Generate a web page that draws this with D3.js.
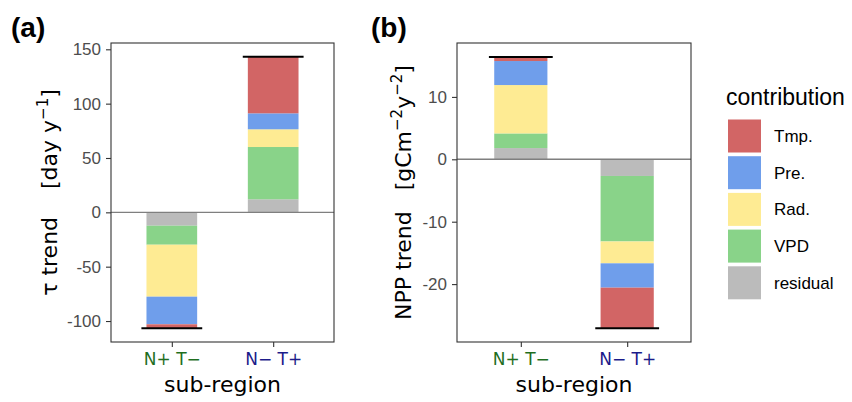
<!DOCTYPE html>
<html>
<head>
<meta charset="utf-8">
<script src="https://cdn.jsdelivr.net/npm/d3@7"></script>
<style>
  body { margin: 0; background: #fff; }
  svg { display: block; }
</style>
</head>
<body>
<svg id="chart" width="852" height="402"></svg>
<script>
// sub-regions and contribution terms (stacked from zero outward)
const regions = ["N+ T\u2212", "N\u2212 T+"];
const regionColors = ["#1f6e1f", "#1c1c8a"];
const keys = ["residual", "VPD", "Rad.", "Pre.", "Tmp."];
const legendKeys = ["Tmp.", "Pre.", "Rad.", "VPD", "residual"];
const fillColors = {"Tmp.": "#d26565", "Pre.": "#6f9eeb", "Rad.": "#feeb93", "VPD": "#89d389", "residual": "#bbbbbb"};

// panel (a): tau trend
const tauResidual = [-12.3, 12.0];
const tauVPD = [-17.5, 48.1];
const tauRad = [-47.8, 16.3];
const tauPre = [-25.4, 14.7];
const tauTmp = [-3.7, 52.1];

// panel (b): NPP trend
const nppResidual = [1.8, -2.67];
const nppVPD = [2.35, -10.5];
const nppRad = [7.75, -3.5];
const nppPre = [3.85, -3.9];
const nppTmp = [0.65, -6.5];

const tauTicks = [-100, -50, 0, 50, 100, 150];
const nppTicks = [-20, -10, 0, 10];

const titleFont = "'DejaVu Sans', 'Open Sans', sans-serif";
const numFont = "'Liberation Sans', Arial, sans-serif";

function rows(res, vpd, rad, pre, tmp) {
  return regions.map((r, i) => ({
    region: r, "residual": res[i], "VPD": vpd[i], "Rad.": rad[i], "Pre.": pre[i], "Tmp.": tmp[i]
  }));
}

const svg = d3.select("#chart");
const stack = d3.stack().keys(keys).offset(d3.stackOffsetDiverging);

function drawPanel(opt) {
  const { data, box, domain, ticks, tag, tagX, titleX, title } = opt;
  const g = svg.append("g");

  const x = d3.scalePoint().domain(regions).range([box.x0, box.x1]).padding(0.6);
  const step = x.step();
  const y = d3.scaleLinear().domain(domain).range([box.y1, box.y0]);

  const series = stack(data);
  g.append("g")
    .selectAll("g")
    .data(series)
    .join("g")
    .attr("fill", (s) => fillColors[s.key])
    .selectAll("rect")
    .data((s) => s)
    .join("rect")
    .attr("x", (d) => x(d.data.region) - step * 0.25)
    .attr("width", step * 0.5)
    .attr("y", (d) => y(Math.max(d[0], d[1])))
    .attr("height", (d) => Math.abs(y(d[0]) - y(d[1])));

  // zero line
  g.append("line")
    .attr("x1", box.x0).attr("x2", box.x1)
    .attr("y1", y(0)).attr("y2", y(0))
    .attr("stroke", "#7f7f7f").attr("stroke-width", 1.4);

  // total bars
  g.append("g")
    .selectAll("line")
    .data(data)
    .join("line")
    .attr("x1", (d) => x(d.region) - step * 0.3)
    .attr("x2", (d) => x(d.region) + step * 0.3)
    .attr("y1", (d) => y(d3.sum(keys, (k) => d[k])))
    .attr("y2", (d) => y(d3.sum(keys, (k) => d[k])))
    .attr("stroke", "#000").attr("stroke-width", 2);

  // panel border
  g.append("rect")
    .attr("x", box.x0).attr("y", box.y0)
    .attr("width", box.x1 - box.x0).attr("height", box.y1 - box.y0)
    .attr("fill", "none").attr("stroke", "#333").attr("stroke-width", 1.1);

  // y axis
  const yAxis = g.append("g")
    .attr("transform", `translate(${box.x0},0)`)
    .call(d3.axisLeft(y).tickValues(ticks).tickSize(5).tickPadding(5));
  yAxis.select(".domain").remove();
  yAxis.selectAll(".tick line").attr("stroke", "#333").attr("stroke-width", 1.1);
  yAxis.selectAll(".tick text")
    .attr("fill", "#4d4d4d")
    .style("font", `17px ${numFont}`)
    .text((d) => String(d));

  // x axis
  const xAxis = g.append("g")
    .attr("transform", `translate(0,${box.y1})`)
    .call(d3.axisBottom(x).tickSize(5).tickPadding(6));
  xAxis.select(".domain").remove();
  xAxis.selectAll(".tick line").attr("stroke", "#333").attr("stroke-width", 1.1);
  xAxis.selectAll(".tick text")
    .attr("fill", (d, i) => regionColors[i])
    .style("font", `17px ${titleFont}`);

  // x title
  g.append("text")
    .attr("x", (box.x0 + box.x1) / 2).attr("y", 392)
    .attr("text-anchor", "middle")
    .style("font", `22px ${titleFont}`)
    .text("sub-region");

  // y title
  const yt = g.append("text")
    .attr("transform", `translate(${titleX},${(box.y0 + box.y1) / 2}) rotate(-90)`)
    .attr("text-anchor", "middle")
    .style("font", `22px ${titleFont}`)
    .attr("xml:space", "preserve");
  title.forEach((p) => {
    const t = yt.append("tspan").text(p.t);
    if (p.sup) t.attr("baseline-shift", "super").style("font-size", "15px");
  });

  // panel tag
  svg.append("text")
    .attr("x", tagX).attr("y", 37)
    .style("font", `bold 28px ${numFont}`)
    .text(tag);
}

drawPanel({
  data: rows(tauResidual, tauVPD, tauRad, tauPre, tauTmp),
  box: { x0: 111, x1: 334, y0: 43, y1: 342 },
  domain: [-119.3, 155.8],
  ticks: tauTicks,
  tag: "(a)", tagX: 11, titleX: 57,
  title: [{ t: "\u03c4 trend    [day y" }, { t: "\u22121", sup: true }, { t: "]" }]
});

drawPanel({
  data: rows(nppResidual, nppVPD, nppRad, nppPre, nppTmp),
  box: { x0: 457, x1: 691, y0: 43, y1: 342 },
  domain: [-29.28, 18.64],
  ticks: nppTicks,
  tag: "(b)", tagX: 371, titleX: 411,
  title: [{ t: "NPP trend   [gCm" }, { t: "\u22122", sup: true }, { t: "y" }, { t: "\u22122", sup: true }, { t: "]" }]
});

// legend
const legend = svg.append("g").attr("transform", "translate(728,0)");
legend.append("text")
  .attr("x", -2).attr("y", 105)
  .style("font", `23px ${numFont}`)
  .text("contribution");
const item = legend.selectAll("g.item")
  .data(legendKeys)
  .join("g")
  .attr("class", "item")
  .attr("transform", (d, i) => `translate(0,${119.5 + i * 36.7})`);
item.append("rect")
  .attr("width", 33).attr("height", 33)
  .attr("fill", (d) => fillColors[d]);
item.append("text")
  .attr("x", 46).attr("y", 16.5).attr("dy", "0.35em")
  .style("font", `17px ${numFont}`)
  .text((d) => d);
</script>
</body>
</html>
